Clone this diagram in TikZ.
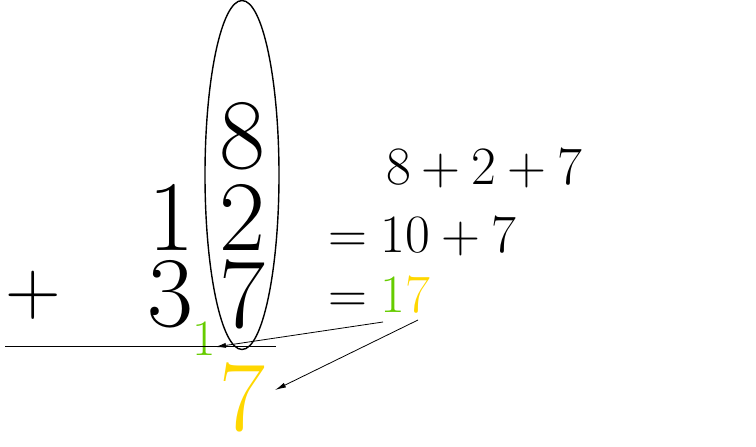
\documentclass[tikz,border=0pt]{standalone}
\usepackage{xcolor}
\usetikzlibrary{shapes.geometric,arrows.meta}
\definecolor{grn}{RGB}{102,204,0}
\definecolor{gold}{RGB}{255,215,0}
\font\bigr=cmr17 at 100pt
\font\plusr=cmr17 at 77pt
\font\midr=cmr17 at 54pt
\font\smr=cmr17 at 51pt
\newcommand{\bs}{\hspace{0.2222em}}
\newcommand{\rs}{\hspace{0.2778em}}
\begin{document}
\begin{tikzpicture}[x=1pt,y=-1pt,
  big/.style={inner sep=0pt,anchor=base,font=\bigr},
  mid/.style={inner sep=0pt,anchor=base west,font=\midr},
  arr/.style={-{Latex[length=11pt,width=5pt]},line width=0.8pt}]
\useasboundingbox (0,0) rectangle (756,447);
\node[big] (e8) at (242,168) {8};
\node[big] (o1) at (171,250) {1};
\node[big] (o2) at (242,250) {2};
\node[inner sep=0pt,anchor=base,font=\plusr] (plus) at (33.5,314) {+};
\node[big] (t3) at (170,326) {3};
\node[big] (t7) at (242,327) {7};
\node[big,text=gold] (r7) at (242,430) {7};
\node[inner sep=0pt,anchor=base,font=\smr,text=grn] (c1) at (204,355) {1};
\draw[line width=0.9pt] (5,346) coordinate (la) -- (276,346) coordinate (lb);
\node[draw,line width=1.4pt,ellipse,minimum width=74pt,minimum height=349pt,inner sep=0pt] (ell) at (242,175) {};
\node[mid] (s1) at (386,184) {8\bs+\bs2\bs+\bs7};
\node[mid] (s2) at (328,252) {=\rs10\bs+\bs7};
\node[mid] (s3) at (328,312) {=\rs{\color{grn}1}{\color{gold}7}};
\coordinate (a1s) at (383,322);
\coordinate (a1e) at (215,347);
\coordinate (a2s) at (418,320);
\coordinate (a2e) at (275,390);
\draw[arr] (a1s) -- (a1e);
\draw[arr] (a2s) -- (a2e);
\end{tikzpicture}
\end{document}
